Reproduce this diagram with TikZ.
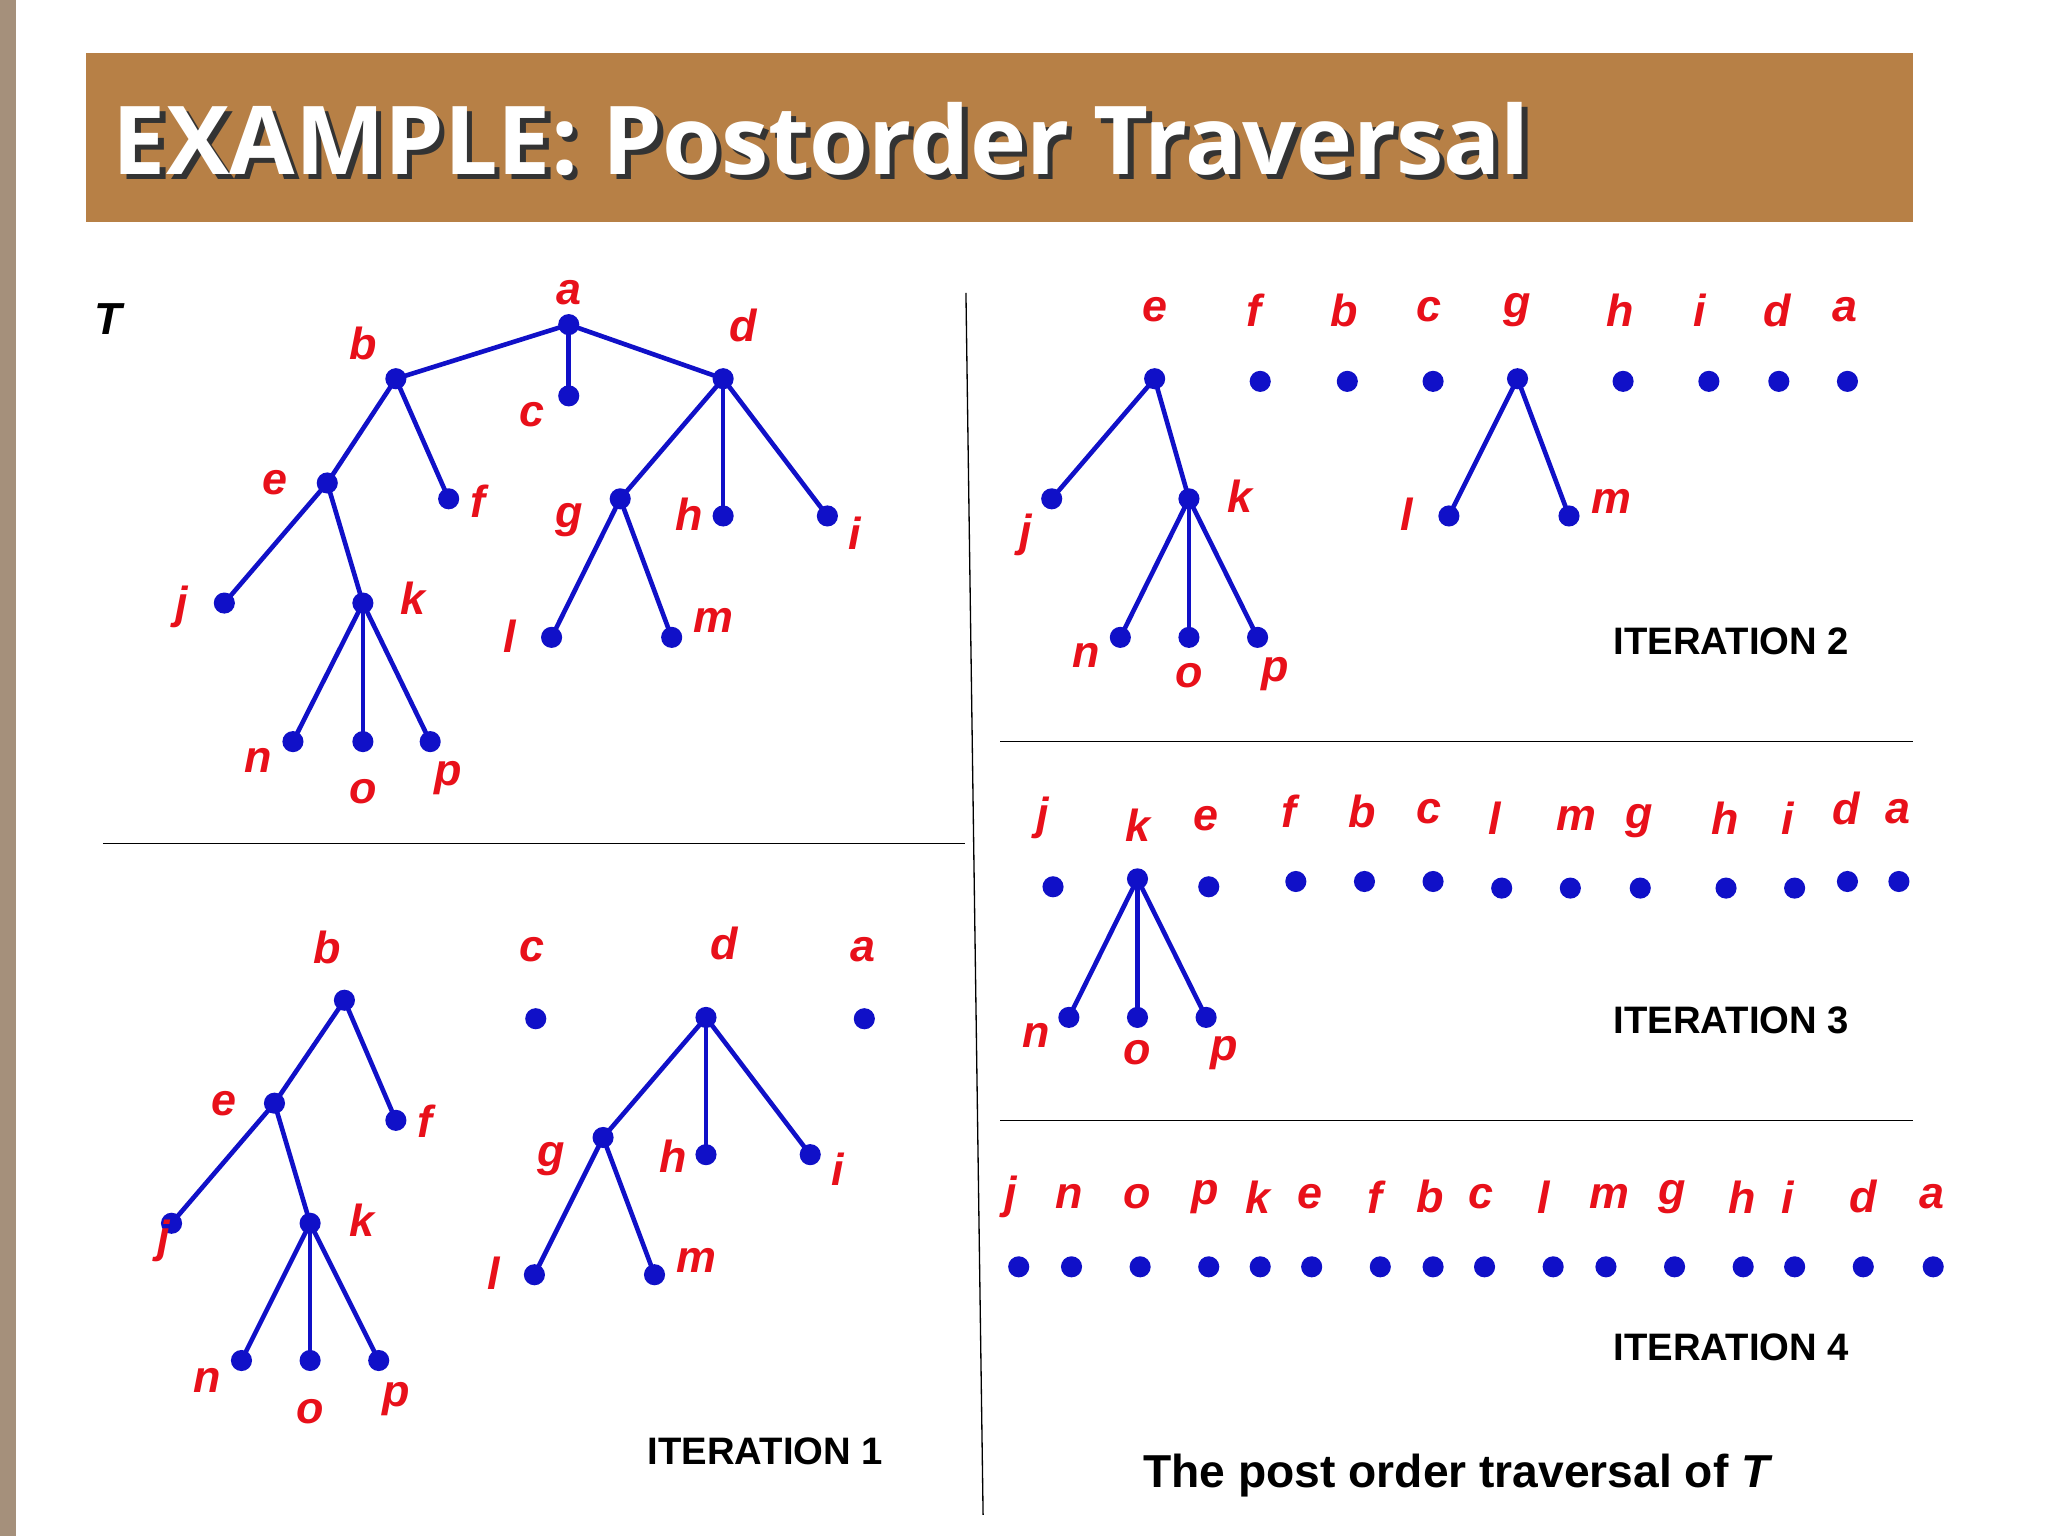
\documentclass[tikz,border=0pt]{standalone}
\usepackage{fontspec}
\setmainfont{Liberation Sans}
\newfontfamily\titlefont{Open Sans}
\begin{document}
\begin{tikzpicture}[x=1pt,y=-1pt,
  dot/.style={circle,fill=dotblue,inner sep=0pt,minimum size=16pt},
  lab/.style={text=labred,font=\fontsize{34}{34}\selectfont\bfseries\itshape,inner sep=0pt},
  itl/.style={font=\fontsize{29}{29}\selectfont\bfseries,inner sep=0pt},
  edge/.style={draw=dotblue,line width=3.5pt},
  sep/.style={draw=black,line width=1pt}]
\definecolor{dotblue}{HTML}{1010C8}
\definecolor{labred}{HTML}{E8101A}
\definecolor{barc}{HTML}{B78046}
\useasboundingbox (0,0) rectangle (1552,1164);
\fill[white] (0,0) rectangle (1552,1164);
\fill[black!45!brown!60] (0,0) rectangle (12,1164);
\fill[barc] (65,40) rectangle (1450,168);
\node[anchor=west,text=black!80,font=\titlefont\fontsize{72}{72}\selectfont\bfseries] (tsh) at (86,109) {EXAMPLE: Postorder Traversal};
\node[anchor=west,text=white,font=\titlefont\fontsize{72}{72}\selectfont\bfseries] (title) at (82,105) {EXAMPLE: Postorder Traversal};
% separators
\coordinate (s1a) at (78,639); \coordinate (s1b) at (731,639);
\coordinate (s2a) at (732,222); \coordinate (s2b) at (745,1148);
\coordinate (s3a) at (758,562); \coordinate (s3b) at (1450,562);
\coordinate (s4a) at (758,849); \coordinate (s4b) at (1450,849);
\draw[sep] (s1a)--(s1b); \draw[sep] (s2a)--(s2b); \draw[sep] (s3a)--(s3b); \draw[sep] (s4a)--(s4b);
\node[lab,text=black] (T) at (82,242) {T};
% Tree T
\foreach \n/\x/\y/\lx/\ly in {a/431/246/431/222,b/300/287/275/260,c/431/300/403/314,d/548/287/563/247,e/248/366/208/366,f/340/378/362/380,j/170/457/138/460,k/275/457/313/453,n/222/562/196/576,o/275/562/275/600,p/326/562/340/590,g/470/378/431/394,h/548/391/522/390,i/627/391/648/404,l/418/483/386/482,m/509/483/541/470}
 {\node[dot] (t\n) at (\x,\y) {}; \node[lab] (tl\n) at (\lx,\ly) {\n};}
\foreach \u/\v in {a/b,a/c,a/d,b/e,b/f,e/j,e/k,k/n,k/o,k/p,d/g,d/h,d/i,g/l,g/m}
 {\draw[edge] (t\u.center)--(t\v.center);}
% Iteration 1
\foreach \n/\x/\y/\lx/\ly in {b/261/758/248/718,e/208/836/170/836,f/300/849/322/850,j/130/927/124/940,k/235/927/274/925,n/183/1031/157/1046,o/235/1031/235/1070,p/287/1031/300/1060,c/406/772/403/720,d/535/771/549/715,g/457/862/418/878,h/535/875/510/876,i/614/875/635/886,l/405/966/374/965,m/496/966/528/955,a/655/772/654/720}
 {\node[dot] (u\n) at (\x,\y) {}; \node[lab] (ul\n) at (\lx,\ly) {\n};}
\foreach \u/\v in {b/e,b/f,e/j,e/k,k/n,k/o,k/p,d/g,d/h,d/i,g/l,g/m}
 {\draw[edge] (u\u.center)--(u\v.center);}
\node[itl] (it1) at (580,1100) {ITERATION 1};
% Iteration 2
\foreach \n/\x/\y/\lx/\ly in {e/875/287/875/235,j/797/378/777/405,k/901/378/940/376,n/849/483/823/497,o/901/483/901/512,p/953/483/966/511,f/955/289/950/235,b/1021/289/1019/235,c/1086/289/1083/235,g/1150/287/1150/235,l/1098/391/1066/390,m/1189/391/1221/380,h/1230/289/1228/235,i/1295/289/1288/235,d/1348/289/1347/235,a/1400/289/1398/235}
 {\node[dot] (v\n) at (\x,\y) {}; \node[lab] (vl\n) at (\lx,\ly) {\n};}
\foreach \u/\v in {e/j,e/k,k/n,k/o,k/p,g/l,g/m}
 {\draw[edge] (v\u.center)--(v\v.center);}
\node[itl] (it2) at (1312,486) {ITERATION 2};
% Iteration 3
\foreach \n/\x/\y/\lx/\ly in {j/798/672/790/620,k/862/666/862/625,n/810/771/785/785,o/862/771/862/798,p/914/771/928/798,e/916/672/914/620,f/982/668/977/615,b/1034/668/1032/615,c/1086/668/1083/615,l/1138/673/1133/620,m/1190/673/1195/620,g/1243/673/1242/622,h/1308/673/1307/620,i/1360/673/1355/620,d/1400/668/1399/613,a/1439/668/1438/615}
 {\node[dot] (w\n) at (\x,\y) {}; \node[lab] (wl\n) at (\lx,\ly) {\n};}
\foreach \u/\v in {k/n,k/o,k/p}
 {\draw[edge] (w\u.center)--(w\v.center);}
\node[itl] (it3) at (1312,773) {ITERATION 3};
% Iteration 4
\foreach \n/\x/\lx in {j/772/766,n/812/810,o/864/862,p/916/913,k/955/953,e/994/993,f/1046/1042,b/1086/1084,c/1125/1122,l/1177/1170,m/1217/1220,g/1269/1267,h/1321/1320,i/1360/1355,d/1412/1412,a/1465/1464}
 {\node[dot] (x\n) at (\x,960) {}; \node[lab] (xl\n) at (\lx,907) {\n};}
\node[itl] (it4) at (1312,1021) {ITERATION 4};
\node[font=\fontsize{35}{35}\selectfont\bfseries,inner sep=0pt] (res) at (1105,1118) {The post order traversal of \textit{T}};
\end{tikzpicture}
\end{document}
